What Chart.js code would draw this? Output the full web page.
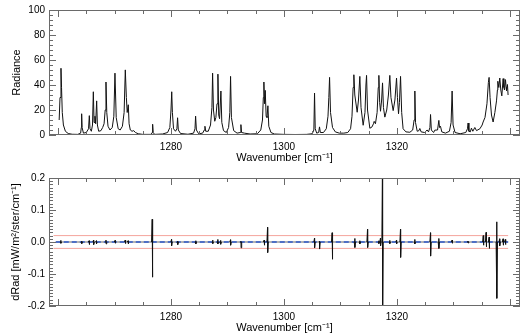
<!DOCTYPE html>
<html>
<head>
<meta charset="utf-8">
<script src="https://cdn.jsdelivr.net/npm/chart.js@4.4.0/dist/chart.umd.min.js"></script>
<style>
html, body { margin: 0; padding: 0; background: #fff; overflow: hidden; }
canvas { position: absolute; left: 0; }
#radChart { top: 0; }
#diffChart { top: 166px; }
</style>
</head>
<body>
<canvas id="radChart" width="528" height="166"></canvas>
<canvas id="diffChart" width="528" height="170"></canvas>
<script>
// top panel: radiance spectrum
var specWn = [
  1260.2, 1260.35, 1260.52, 1260.62, 1260.75, 1260.95, 1261.3, 1261.8, 1262.5, 1263.5,
  1264.0, 1264.12, 1264.18, 1264.26, 1264.5, 1265.0, 1265.4, 1265.54, 1265.66, 1265.9,
  1266.1, 1266.25, 1266.38, 1266.54, 1266.66, 1266.84, 1266.97, 1267.2, 1267.6, 1267.9,
  1268.15, 1268.35, 1268.49, 1268.63, 1268.85, 1269.2, 1269.6, 1269.88, 1270.08, 1270.3,
  1270.65, 1271.0, 1271.4, 1271.7, 1271.91, 1272.1, 1272.25, 1272.44, 1272.58, 1272.8,
  1273.1, 1273.4, 1273.7, 1274.2, 1275.0, 1276.5, 1276.66, 1276.75, 1276.85, 1277.1,
  1278.5, 1279.4, 1279.8, 1280.0, 1280.13, 1280.25, 1280.45, 1280.8, 1281.05, 1281.17,
  1281.3, 1281.7, 1283.0, 1284.0, 1284.25, 1284.36, 1284.5, 1284.9, 1285.6, 1285.9,
  1286.01, 1286.15, 1286.6, 1287.0, 1287.25, 1287.37, 1287.52, 1287.75, 1287.95, 1288.15,
  1288.31, 1288.45, 1288.6, 1288.84, 1289.0, 1289.3, 1289.8, 1290.2, 1290.42, 1290.55,
  1290.7, 1291.1, 1291.7, 1292.28, 1292.38, 1292.5, 1293.0, 1294.0, 1295.3, 1295.9,
  1296.2, 1296.35, 1296.45, 1296.57, 1296.69, 1296.85, 1297.0, 1297.16, 1297.32, 1297.7,
  1298.3, 1300.0, 1302.0, 1304.0, 1305.0, 1305.3, 1305.42, 1305.54, 1305.8, 1306.15,
  1306.3, 1306.45, 1307.0, 1307.5, 1307.8, 1307.95, 1308.08, 1308.25, 1308.6, 1309.1,
  1309.8, 1310.6, 1311.3, 1311.8, 1312.05, 1312.25, 1312.38, 1312.55, 1312.97, 1313.2,
  1313.44, 1313.65, 1314.03, 1314.35, 1314.52, 1314.63, 1314.8, 1315.21, 1315.6, 1315.85,
  1315.98, 1316.2, 1316.5, 1316.7, 1316.81, 1316.95, 1317.1, 1317.3, 1317.46, 1317.62,
  1317.87, 1318.2, 1318.5, 1318.75, 1318.95, 1319.34, 1319.65, 1319.94, 1320.1, 1320.29,
  1320.45, 1320.65, 1320.85, 1321.1, 1321.6, 1322.3, 1322.8, 1323.05, 1323.18, 1323.3,
  1323.6, 1323.9, 1324.06, 1324.3, 1324.9, 1325.35, 1325.6, 1325.85, 1325.96, 1326.1,
  1326.5, 1326.72, 1327.2, 1327.43, 1327.55, 1327.72, 1327.95, 1328.6, 1329.3, 1329.6,
  1329.78, 1329.95, 1330.3, 1331.2, 1332.2, 1332.5, 1332.61, 1332.75, 1333.0, 1333.2,
  1333.45, 1333.8, 1334.1, 1334.7, 1335.1, 1335.27, 1335.6, 1335.95, 1336.2, 1336.33,
  1336.5, 1336.75, 1337.04, 1337.35, 1337.64, 1337.8, 1337.87, 1338.05, 1338.22, 1338.4,
  1338.58, 1338.81, 1338.95, 1339.05, 1339.23, 1339.35, 1339.41, 1339.58, 1339.69
];
var specRad = [
  12, 30, 53.4, 38, 18, 8, 3, 1.2, 0.6, 0.5,
  1.5, 6, 17, 6, 1.5, 2, 5, 15.5, 5, 3,
  8, 34.6, 10, 15, 9, 27.3, 8, 3, 3.5, 6,
  9, 20, 42.4, 18, 7, 4, 6, 15, 49.5, 14,
  5, 4, 7, 18, 52.1, 30, 18, 24.2, 9, 4,
  3, 3.5, 2, 1, 0.5, 0.5, 2, 8.6, 2, 0.5,
  0.8, 2, 6, 20, 34.6, 18, 5, 3, 5, 13.8,
  4, 1.2, 0.6, 1.5, 5, 15.1, 4, 1, 1.5, 4,
  7, 3, 3, 8, 22, 49.5, 20, 11, 14, 25,
  48.7, 16, 13, 35.2, 10, 3.5, 2, 6, 18, 46.9,
  14, 3.5, 1.5, 2, 8.3, 2, 1.5, 0.8, 1, 4,
  12, 30, 42.4, 25, 35.7, 15, 14, 23.4, 7, 2,
  0.8, 0.5, 0.4, 0.5, 1, 4, 33.6, 5, 1.5, 2,
  6.5, 2, 2, 5, 15, 30, 46.1, 18, 6, 2.5,
  1.5, 1.5, 2, 5, 15, 38, 48.2, 32, 18.2, 28,
  46.9, 22, 7.8, 18, 40, 47.7, 20, 5.4, 6.5, 9,
  10.9, 9, 18, 38, 47.7, 26, 19, 28, 41.7, 22,
  14.3, 20, 32, 47.7, 30, 19.5, 28, 45.6, 30, 17,
  26, 46.9, 18, 5, 2.5, 2.2, 4, 12, 35.2, 10,
  3, 3.5, 5.2, 2.5, 2, 4, 2.5, 6, 16.4, 4,
  2, 3.9, 4, 11.7, 6, 7, 2.5, 1.5, 3, 10,
  35.2, 8, 2, 1, 2, 5, 9.6, 3, 2.5, 5.5,
  3, 6, 3.5, 5, 8, 10.4, 14, 25, 42, 46.1,
  30, 16, 10.4, 18, 27.3, 36, 43, 38, 45.6, 36,
  31.3, 45.1, 38, 36, 44.3, 38, 35.5, 40.4, 32
];

// bottom panel: residual spikes (centre, top, bottom)
var diffWn = [
  1260.5, 1264.2, 1265.5, 1266.3, 1266.8, 1268.5, 1270.1, 1271.9, 1272.4, 1276.68,
  1280.1, 1281.2, 1284.4, 1287.4, 1288.3, 1288.8, 1290.55, 1292.4, 1296.5, 1297.11,
  1305.42, 1306.3, 1308.54, 1312.56, 1313.44, 1314.81, 1316.81, 1317.1, 1317.46, 1318.75,
  1319.94, 1320.65, 1323.18, 1325.96, 1327.43, 1329.78, 1332.6, 1335.3, 1335.8, 1336.33,
  1337.69, 1338.2, 1338.8, 1339.2
];
var diffUp = [
  0.005, 0.003, 0.004, 0.006, 0.004, 0.006, 0.005, 0.006, 0.004, 0.071,
  0.008, 0.003, 0.004, 0.006, 0.008, 0.005, 0.007, 0.002, 0.006, 0.046,
  0.012, 0.002, 0.029, 0.011, 0.004, 0.040, 0.004, 0.012, 0.25, 0.005,
  0.006, 0.040, 0.008, 0.029, 0.011, 0.006, 0.003, 0.02, 0.03, 0.015,
  0.063, 0.01, 0.01, 0.008
];
var diffDown = [
  -0.004, -0.005, -0.008, -0.008, -0.006, -0.006, -0.004, -0.005, -0.006, -0.110,
  -0.012, -0.008, -0.006, -0.005, -0.006, -0.007, -0.01, -0.018, -0.01, -0.033,
  -0.018, -0.022, -0.054, -0.017, -0.006, -0.017, -0.005, -0.012, -0.25, -0.005,
  -0.006, -0.048, -0.006, -0.044, -0.02, -0.004, -0.003, -0.01, -0.015, -0.02,
  -0.176, -0.012, -0.01, -0.008
];
var limitWn = [1259.2, 1339.7];
var limitUpper = [0.02, 0.02];
var limitLower = [-0.02, -0.02];
var zeroWn = [1259.6, 1339.7];
var zeroVal = [0, 0];
var xTickLabels = [1280, 1300, 1320];

function pts(xs, ys) {
  return xs.map(function (x, i) { return { x: x, y: ys[i] }; });
}

// residual drawn as short bursts around each spike, gaps elsewhere
var diffPts = [];
diffWn.forEach(function (w, i) {
  diffPts.push({ x: w - 0.12, y: 0 }, { x: w - 0.01, y: diffUp[i] },
               { x: w + 0.01, y: diffDown[i] }, { x: w + 0.12, y: 0 },
               { x: w + 0.13, y: null });
});

// IDL-like frame with inward ticks on all four sides
var framePlugin = {
  id: 'frame',
  afterDatasetsDraw: function (chart, args, opts) {
    var ctx = chart.ctx, a = chart.chartArea, xs = chart.scales.x, ys = chart.scales.y;
    ctx.save();
    ctx.strokeStyle = '#6a6a6a';
    ctx.lineWidth = 1;
    ctx.strokeRect(a.left + 0.5, a.top + 0.5, a.right - a.left - 1, a.bottom - a.top - 1);
    ctx.beginPath();
    var k, p, len;
    for (k = Math.ceil(xs.min / opts.xMinor); k * opts.xMinor <= xs.max; k++) {
      p = Math.round(xs.getPixelForValue(k * opts.xMinor)) + 0.5;
      len = (k % opts.xRatio === 0) ? 7 : 4;
      ctx.moveTo(p, a.bottom); ctx.lineTo(p, a.bottom - len);
      ctx.moveTo(p, a.top); ctx.lineTo(p, a.top + len);
    }
    for (k = Math.ceil(ys.min / opts.yMinor - 1e-6); k * opts.yMinor <= ys.max + 1e-9; k++) {
      p = Math.round(ys.getPixelForValue(k * opts.yMinor)) + 0.5;
      len = (k % opts.yRatio === 0) ? 7 : 4;
      ctx.moveTo(a.left, p); ctx.lineTo(a.left + len, p);
      ctx.moveTo(a.right, p); ctx.lineTo(a.right - len, p);
    }
    ctx.stroke();
    ctx.restore();
  }
};

var tickFont = { family: 'Liberation Sans', size: 10 };
var titleFont = { family: 'Liberation Sans', size: 11 };

function xAxis(height, pad, titleBottom) {
  return {
    type: 'linear', min: 1258.4, max: 1341.8,
    grid: { display: false, drawTicks: false },
    border: { display: false },
    ticks: {
      stepSize: 20, includeBounds: false, autoSkip: false, maxRotation: 0,
      padding: pad, font: tickFont, color: '#000',
      callback: function (v) { return xTickLabels.indexOf(v) >= 0 ? String(v) : ''; }
    },
    title: { display: true, text: 'Wavenumber [cm\u207B\u00B9]', font: titleFont, color: '#000',
             padding: { top: 0, bottom: titleBottom } },
    afterFit: function (s) { s.height = height; }
  };
}

new Chart(document.getElementById('radChart'), {
  type: 'line',
  data: {
    datasets: [{
      data: pts(specWn, specRad),
      borderColor: '#111', borderWidth: 1, pointRadius: 0, tension: 0
    }]
  },
  options: {
    responsive: false, animation: false, devicePixelRatio: 1,
    layout: { padding: { left: 0, right: 8, top: 7, bottom: 0 } },
    plugins: { legend: { display: false }, tooltip: { enabled: false },
               frame: { xMinor: 5, xRatio: 4, yMinor: 4, yRatio: 5 } },
    scales: {
      x: xAxis(31, 6, 1.4),
      y: {
        min: 0, max: 100,
        grid: { display: false, drawTicks: false },
        border: { display: false },
        ticks: { stepSize: 20, padding: 4, font: tickFont, color: '#000' },
        title: { display: true, text: 'Radiance', font: titleFont, color: '#000',
                 padding: { top: 10, bottom: 0 } },
        afterFit: function (s) { s.width = 49; }
      }
    }
  },
  plugins: [framePlugin]
});

new Chart(document.getElementById('diffChart'), {
  type: 'line',
  data: {
    datasets: [
      { data: diffPts, borderColor: '#111', borderWidth: 1, pointRadius: 0, tension: 0,
        spanGaps: false },
      { data: pts(zeroWn, zeroVal), borderColor: '#4f6fc4', borderWidth: 2,
        borderDash: [5, 3], pointRadius: 0 },
      { data: pts(zeroWn, zeroVal), borderColor: '#b4b4b4', borderWidth: 2, pointRadius: 0 },
      { data: pts(limitWn, limitUpper), borderColor: '#f4a49c', borderWidth: 1, pointRadius: 0 },
      { data: pts(limitWn, limitLower), borderColor: '#f4a49c', borderWidth: 1, pointRadius: 0 }
    ]
  },
  options: {
    responsive: false, animation: false, devicePixelRatio: 1,
    layout: { padding: { left: 0, right: 8, top: 12, bottom: 0 } },
    plugins: { legend: { display: false }, tooltip: { enabled: false },
               frame: { xMinor: 5, xRatio: 4, yMinor: 0.01, yRatio: 10 } },
    scales: {
      x: xAxis(30, 5, 1.4),
      y: {
        min: -0.2, max: 0.2,
        grid: { display: false, drawTicks: false },
        border: { display: false },
        ticks: { stepSize: 0.1, padding: 4, font: tickFont, color: '#000',
                 callback: function (v) { return (Math.abs(v) < 1e-9 ? 0 : v).toFixed(1); } },
        title: { display: true, text: 'dRad [mW/m\u00B2/ster/cm\u207B\u00B9]', font: titleFont,
                 color: '#000', padding: { top: 9, bottom: 0 } },
        afterFit: function (s) { s.width = 49; }
      }
    }
  },
  plugins: [framePlugin]
});
</script>
</body>
</html>
